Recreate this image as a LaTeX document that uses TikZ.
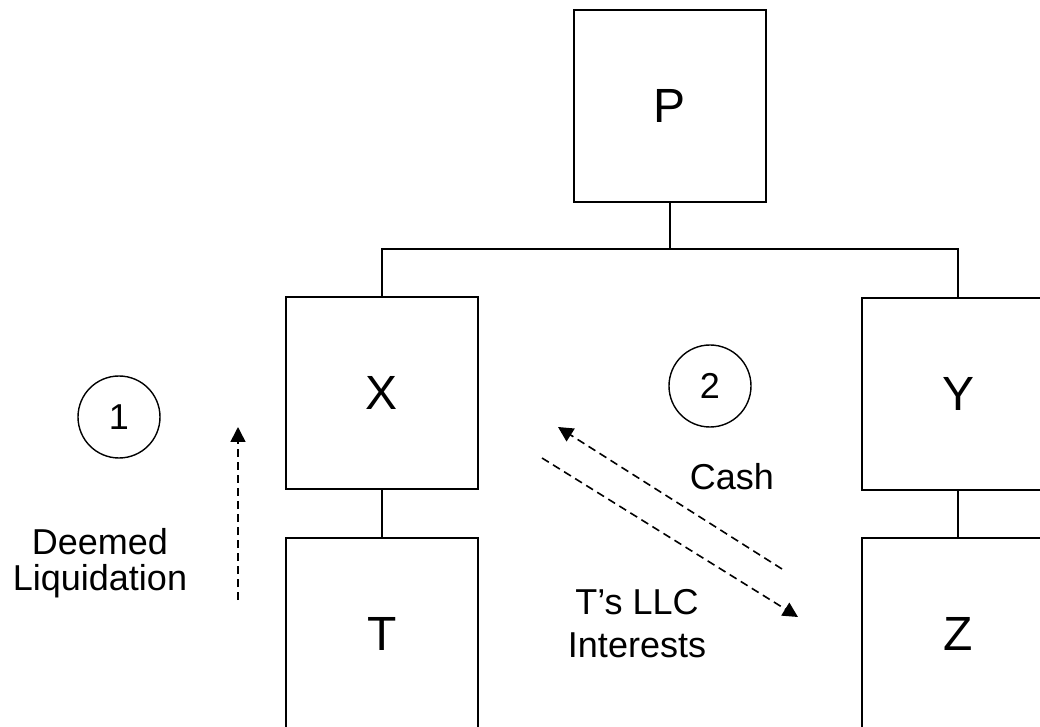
\documentclass[tikz,border=0pt]{standalone}
\usepackage{fontspec}
\setmainfont{Liberation Sans}
\usetikzlibrary{arrows.meta}

\begin{document}
\begin{tikzpicture}[
        x=0.5pt, y=-0.5pt,
        company/.style={rectangle, draw, line width=1pt, minimum width=96pt, minimum height=96pt, inner sep=0pt, font=\fontsize{24}{28}\selectfont},
        stepno/.style={circle, draw, line width=0.7pt, minimum size=41pt, inner sep=0pt, font=\fontsize{18}{18}\selectfont},
        note/.style={align=center, inner sep=0pt, font=\fontsize{18}{18}\selectfont},
        tree/.style={draw, line width=1pt},
        flow/.style={draw, line width=0.8pt, dash pattern=on 4pt off 2.5pt, -{Triangle[length=7.5pt,width=7.5pt]}}
    ]
        \clip (0,0) rectangle (1040,727);

        % Companies
        \node[company] (P) at (670,106) {P};
        \node[company] (X) at (382,393) {X};
        \node[company] (Y) at (958,394) {Y};
        \node[company] (T) at (382,634) {T};
        \node[company] (Z) at (958,634) {Z};

        % Steps and labels
        \node[stepno] (one) at (119,417) {1};
        \node[stepno] (two) at (710,386) {2};
        \node[note] (deemed) at (100,563) {Deemed\\Liquidation};
        \node[note] (cash) at (732,477) {Cash};
        \node[note, font=\fontsize{18}{21.5}\selectfont] (llc) at (637,624) {T’s LLC\\Interests};

        % Arrow ends
        \coordinate (liqfrom) at (238,600);
        \coordinate (liqto) at (238,427);
        \coordinate (cashfrom) at (782,569);
        \coordinate (cashto) at (558,427);
        \coordinate (llcfrom) at (542,458);
        \coordinate (llcto) at (798,617);
        \coordinate (bus) at (670,249);

        % Ownership lines
        \draw[tree] (P.south) -- (bus);
        \draw[tree] (X.north) |- (bus) -| (Y.north);
        \draw[tree] (X) -- (T);
        \draw[tree] (Y) -- (Z);

        % Transfers
        \path
            (liqfrom) edge[flow] (liqto)
            (cashfrom) edge[flow] (cashto)
            (llcfrom) edge[flow] (llcto);
    \end{tikzpicture}
\end{document}
